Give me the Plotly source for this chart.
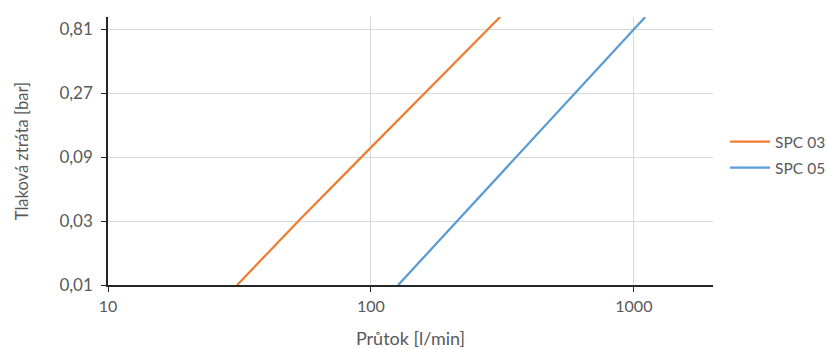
import math
import plotly.graph_objects as go

# Data (log-log chart)
dp_levels = [0.01, 0.03, 0.09, 0.27, 0.81, 1.0]
spc03_flow = [31, 53, 92, 160, 278, 310]
spc05_flow = [127, 213, 357, 598, 1000, 1105]

series_names = ["SPC 03", "SPC 05"]
series_colors = ["#ED7D31", "#5B9BD5"]

x_tickvals = [10, 100, 1000]
x_ticktext = ["10", "100", "1000"]
y_tickvals = [0.01, 0.03, 0.09, 0.27, 0.81]
y_ticktext = ["0,01", "0,03", "0,09", "0,27", "0,81"]

x_title = "Průtok [l/min]"
y_title = "Tlaková ztráta [bar]"

font_family = "Lato, 'Open Sans', sans-serif"
grey = "#595959"

fig = go.Figure()
for name, flows, color in zip(series_names, [spc03_flow, spc05_flow], series_colors):
    fig.add_trace(go.Scatter(
        x=flows, y=dp_levels, mode="lines", name=name,
        line=dict(color=color, width=2.25),
        legendgroup=name,
    ))

fig.update_layout(
    width=827, height=349,
    margin=dict(l=108, r=114, t=17, b=64, autoexpand=False),
    paper_bgcolor="white", plot_bgcolor="white",
    font=dict(family=font_family, size=16, color=grey),
    legend=dict(
        x=1.02, y=0.485, xanchor="left", yanchor="middle",
        font=dict(size=15.5, color=grey),
        tracegroupgap=3,
        itemwidth=40,
        bgcolor="rgba(0,0,0,0)",
    ),
    showlegend=True,
)

fig.update_xaxes(
    type="log", range=[1, math.log10(2000)],
    tickvals=x_tickvals, ticktext=x_ticktext,
    tickfont=dict(size=16, color=grey),
    showgrid=True, gridcolor="#d9d9d9", gridwidth=1,
    showline=True, linecolor="#262626", linewidth=1.5,
    ticks="outside", ticklen=5, tickcolor="#262626",
    ticklabelstandoff=1,
    automargin=False,
    title=dict(text=x_title, standoff=25, font=dict(size=18, color=grey)),
    zeroline=False,
)
fig.update_yaxes(
    type="log", range=[-2, 0],
    tickvals=y_tickvals, ticktext=y_ticktext,
    tickfont=dict(size=17, color=grey),
    showgrid=True, gridcolor="#d9d9d9", gridwidth=1,
    showline=True, linecolor="#262626", linewidth=1.5,
    ticks="outside", ticklen=5, tickcolor="#262626",
    ticklabelstandoff=5,
    automargin=False,
    title=dict(text=y_title, standoff=27, font=dict(size=16.5, color=grey)),
    zeroline=False,
)

fig.write_html(
    "out.html",
    config={"displayModeBar": False},
    post_script="document.body.style.margin='0';document.body.style.overflow='hidden';",
)
